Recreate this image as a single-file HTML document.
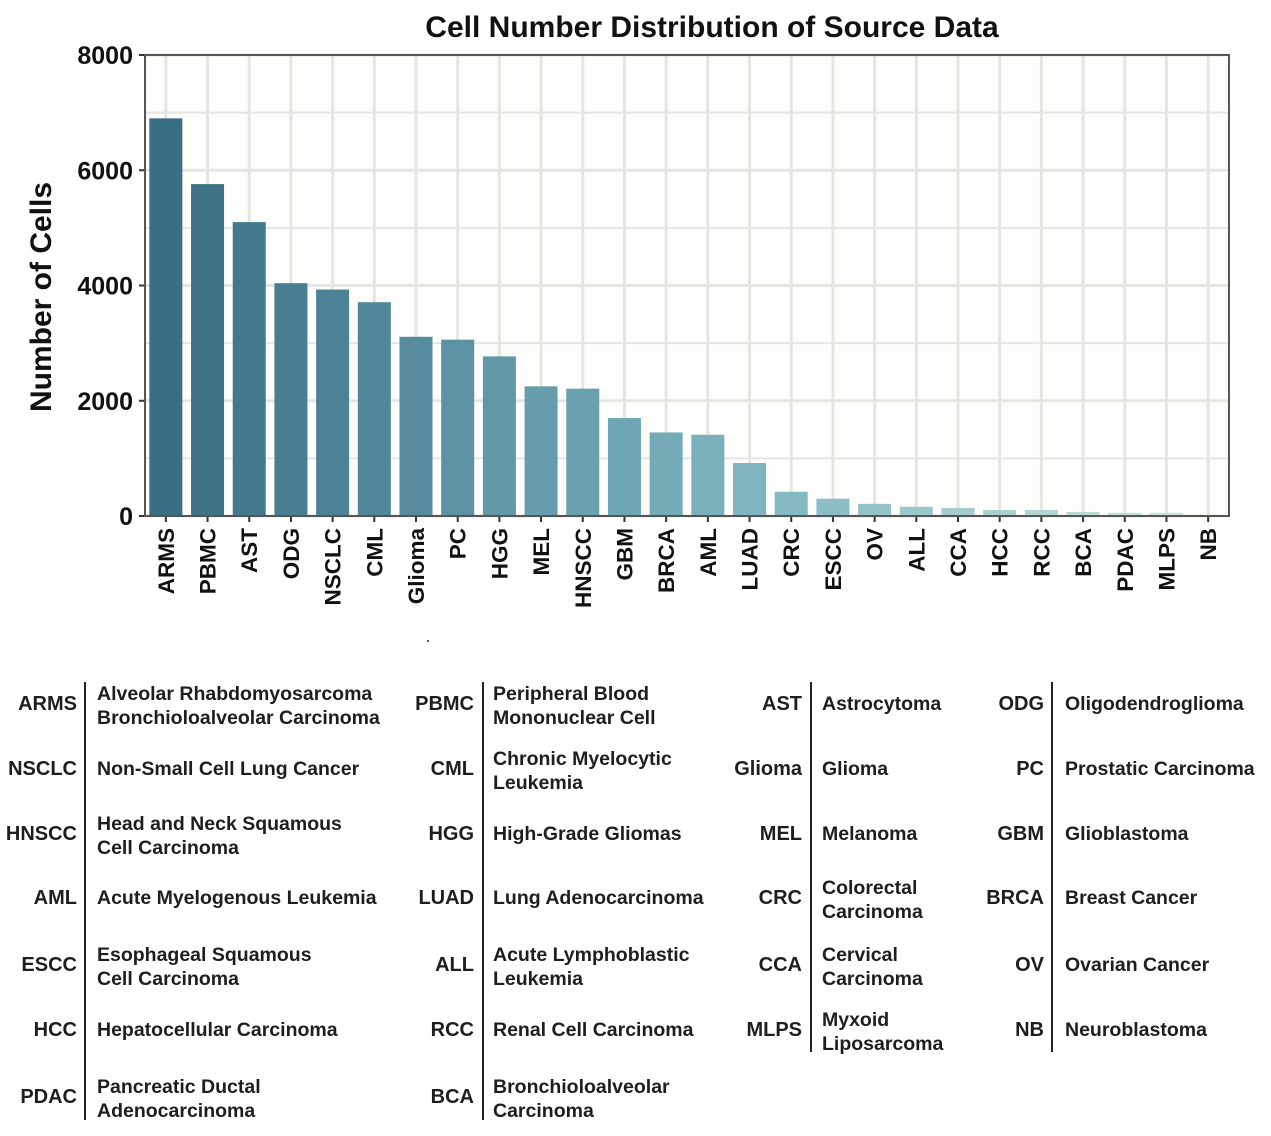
<!DOCTYPE html>
<html><head><meta charset="utf-8">
<style>
body{margin:0;width:1271px;height:1136px;background:#fff;position:relative;overflow:hidden;font-family:"Liberation Sans",Arial,sans-serif;}
.ab{position:absolute;font-weight:bold;font-size:20px;color:#1e1e1e;text-align:right;line-height:24px;}
.fn{position:absolute;font-weight:bold;font-size:19.5px;color:#1e1e1e;line-height:24px;}
.vl{position:absolute;width:2px;background:#222;}
</style></head><body>
<svg id="chart" width="1271" height="640" style="position:absolute;left:0;top:0">
<text x="712" y="37" text-anchor="middle" font-size="30" font-weight="bold" fill="#111">Cell Number Distribution of Source Data</text>
<text transform="translate(51,297) rotate(-90)" text-anchor="middle" font-size="30" font-weight="bold" fill="#111">Number of Cells</text>
<g id="plot"></g>
</svg>
<div style="position:absolute;left:427px;top:640px;width:2px;height:2px;background:#666"></div>
<div id="legend"></div>
<script>
const categories=["ARMS","PBMC","AST","ODG","NSCLC","CML","Glioma","PC","HGG","MEL","HNSCC","GBM","BRCA","AML","LUAD","CRC","ESCC","OV","ALL","CCA","HCC","RCC","BCA","PDAC","MLPS","NB"];
const values=[6900,5760,5100,4040,3930,3710,3110,3060,2770,2250,2210,1700,1450,1410,920,420,300,210,160,140,105,105,70,55,55,5];
const yTicks=[0,2000,4000,6000,8000];
const L=145,R=1229,T=55,B=516,ymax=8000;
const step=(R-L)/categories.length;
const x=i=>L+step*(i+0.5);
const y=v=>B-(v/ymax)*(B-T);
const NS="http://www.w3.org/2000/svg";
const g=document.getElementById('plot');
function mk(t,a){const e=document.createElementNS(NS,t);for(const k in a)e.setAttribute(k,a[k]);g.appendChild(e);return e;}
const bg=mk('rect',{x:L,y:T,width:R-L,height:B-T,fill:'#fdfdfb'});


for(let v=0;v<=ymax;v+=1000){const l=mk('line',{x1:L,x2:R,y1:y(v),y2:y(v),stroke:'#e6e6e1','stroke-width':v%2000?2:3});

}
categories.forEach((c,i)=>{const l=mk('line',{x1:x(i),x2:x(i),y1:T,y2:B,stroke:'#e6e6e1','stroke-width':3});

});
const c0=[58,110,132],c1=[126,181,192],c2=[208,232,220];
function col(i){const t=i/(categories.length-1);let a,b,u;if(t<0.56){a=c0;b=c1;u=t/0.56;}else{a=c1;b=c2;u=(t-0.56)/0.44;}return 'rgb('+a.map((v,k)=>Math.round(v+(b[k]-v)*u)).join(',')+')';}
const bw=33;
categories.forEach((c,i)=>{
const r=mk('rect',{x:x(i)-bw/2,y:y(values[i]),width:bw,height:B-y(values[i]),fill:col(i)});


const tk=mk('line',{x1:x(i),x2:x(i),y1:B,y2:B+6,stroke:'#333','stroke-width':2});


const t=mk('text',{transform:`translate(${x(i)+8},${B+12}) rotate(-90)`,'text-anchor':'end','font-size':22.5,'font-weight':'bold',fill:'#111'});
t.textContent=c;


});
yTicks.forEach(v=>{
const tk=mk('line',{x1:L-6,x2:L,y1:y(v),y2:y(v),stroke:'#333','stroke-width':2});


const t=mk('text',{x:L-12,y:y(v)+9,'text-anchor':'end','font-size':25,'font-weight':'bold',fill:'#111'});
t.textContent=v;


});
const ax=mk('path',{d:`M${L},${T}V${B}H${R}V${T}Z`,fill:'none',stroke:'#555','stroke-width':2});



const legAbbr=["ARMS","PBMC","AST","ODG","NSCLC","CML","Glioma","PC","HNSCC","HGG","MEL","GBM","AML","LUAD","CRC","BRCA","ESCC","ALL","CCA","OV","HCC","RCC","MLPS","NB","PDAC","BCA"];
const legFull=["Alveolar Rhabdomyosarcoma<br>Bronchioloalveolar Carcinoma","Peripheral Blood<br>Mononuclear Cell","Astrocytoma","Oligodendroglioma","Non-Small Cell Lung Cancer","Chronic Myelocytic<br>Leukemia","Glioma","Prostatic Carcinoma","Head and Neck Squamous<br>Cell Carcinoma","High-Grade Gliomas","Melanoma","Glioblastoma","Acute Myelogenous Leukemia","Lung Adenocarcinoma","Colorectal<br>Carcinoma","Breast Cancer","Esophageal Squamous<br>Cell Carcinoma","Acute Lymphoblastic<br>Leukemia","Cervical<br>Carcinoma","Ovarian Cancer","Hepatocellular Carcinoma","Renal Cell Carcinoma","Myxoid<br>Liposarcoma","Neuroblastoma","Pancreatic Ductal<br>Adenocarcinoma","Bronchioloalveolar<br>Carcinoma"];
const abEnd=[77,474,802,1044],nmX=[97,493,822,1065],rowC=[704,769,834,898,965,1030,1097];
const leg=document.getElementById('legend');
legAbbr.forEach((a,i)=>{
const col_=i%4,row=Math.floor(i/4),two=legFull[i].includes('<br>');
const ab=document.createElement('div');ab.className='ab';
ab.style.right=(1271-abEnd[col_])+'px';ab.style.top=(rowC[row]-12)+'px';ab.textContent=a;


leg.appendChild(ab);
const fn=document.createElement('div');fn.className='fn';
fn.style.left=nmX[col_]+'px';fn.style.top=(rowC[row]-(two?22:12))+'px';fn.innerHTML=legFull[i];


leg.appendChild(fn);
});
[[84,682,1120],[482,682,1120],[810,682,1052],[1051,682,1052]].forEach(v=>{
const d=document.createElement('div');d.className='vl';d.style.left=v[0]+'px';d.style.top=v[1]+'px';d.style.height=(v[2]-v[1])+'px';


leg.appendChild(d);});
</script>
</body></html>
